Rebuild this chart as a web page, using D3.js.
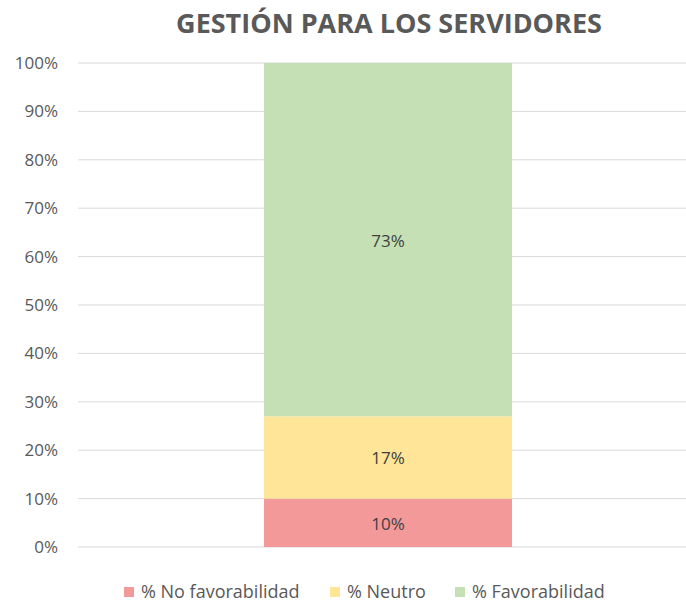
<!DOCTYPE html>
<html>
<head>
<meta charset="utf-8">
<script src="https://cdn.jsdelivr.net/npm/d3@7"></script>
<style>
  body { margin: 0; background: #fff; }
  text { font-family: "Open Sans", "DejaVu Sans", sans-serif; }
</style>
</head>
<body>
<div id="chart"></div>
<script>
// datos
var categorias = ["Gestión para los servidores"];
var series = ["% No favorabilidad", "% Neutro", "% Favorabilidad"];
var valores = [10, 17, 73];
var colores = ["#F4999A", "#FEE598", "#C5E0B4"];
var ticks = [0, 10, 20, 30, 40, 50, 60, 70, 80, 90, 100];

var w = 686, h = 603;
var svg = d3.select("#chart").append("svg").attr("width", w).attr("height", h);

// barra centrada entre 264 y 512
var x = d3.scaleBand().domain(categorias).range([264, 512]);
var y = d3.scaleLinear().domain([0, 100]).range([547, 63]);

// titulo
svg.append("text").attr("x", 389).attr("y", 33).attr("text-anchor", "middle")
   .attr("font-size", 27).attr("font-weight", "bold").attr("fill", "#595959")
   .text("GESTIÓN PARA LOS SERVIDORES");

// lineas de cuadricula
svg.selectAll(".grid").data(ticks).enter().append("line")
   .attr("x1", 78).attr("x2", w)
   .attr("y1", function (d) { return y(d); }).attr("y2", function (d) { return y(d); })
   .attr("stroke", "#D9D9D9").attr("stroke-width", 1);

// eje y
var eje = d3.axisLeft(y).tickValues(ticks).tickSize(0).tickPadding(0)
   .tickFormat(function (d) { return d + "%"; });
var g = svg.append("g").attr("transform", "translate(58,0)").call(eje);
g.select(".domain").remove();
g.selectAll("text").attr("font-size", 17).attr("fill", "#595959")
   .style("font-family", "'Open Sans', sans-serif");

// barras apiladas
var acumulado = 0;
var pilas = valores.map(function (v, i) {
  var p = { y0: acumulado, y1: acumulado + v, v: v, c: colores[i] };
  acumulado += v;
  return p;
});
svg.selectAll(".seg").data(pilas).enter().append("rect")
   .attr("x", x(categorias[0])).attr("width", x.bandwidth())
   .attr("y", function (d) { return y(d.y1); })
   .attr("height", function (d) { return y(d.y0) - y(d.y1); })
   .attr("fill", function (d) { return d.c; });

svg.selectAll(".lbl").data(pilas).enter().append("text")
   .attr("x", x(categorias[0]) + x.bandwidth() / 2)
   .attr("y", function (d) { return (y(d.y0) + y(d.y1)) / 2 + 1; })
   .attr("dy", "0.35em").attr("text-anchor", "middle")
   .attr("font-size", 17).attr("fill", "#404040")
   .text(function (d) { return d.v + "%"; });

// leyenda
var legX = [124, 330, 455];
var ley = svg.selectAll(".ley").data(series).enter().append("g")
   .attr("transform", function (d, i) { return "translate(" + legX[i] + ",587)"; });
ley.append("rect").attr("x", 0).attr("y", 0).attr("width", 10).attr("height", 10)
   .attr("fill", function (d, i) { return colores[i]; });
ley.append("text").attr("x", 17).attr("y", 5).attr("dy", "0.35em")
   .attr("font-size", 18).attr("fill", "#595959")
   .text(function (d) { return d; });
</script>
</body>
</html>
